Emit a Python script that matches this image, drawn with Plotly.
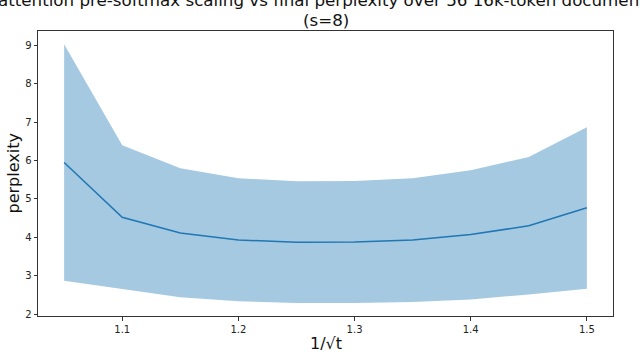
import plotly.graph_objects as go

x_vals = [1.05, 1.1, 1.15, 1.2, 1.25, 1.3, 1.35, 1.4, 1.45, 1.5]
mean_ppl = [5.95, 4.52, 4.11, 3.93, 3.87, 3.88, 3.93, 4.07, 4.30, 4.77]
upper_ppl = [9.03, 6.40, 5.80, 5.54, 5.46, 5.47, 5.54, 5.75, 6.09, 6.87]
lower_ppl = [2.87, 2.66, 2.44, 2.33, 2.29, 2.29, 2.31, 2.38, 2.51, 2.66]

title_line1 = "attention pre-softmax scaling vs final perplexity over 56 16k-token documents"
title_line2 = "(s=8)"
x_title = "1/√t"
y_title = "perplexity"

FONT = "DejaVu Sans"

fig = go.Figure()
fig.add_trace(go.Scatter(x=x_vals, y=lower_ppl, mode="lines", line=dict(width=0),
                         hoverinfo="skip", showlegend=False))
fig.add_trace(go.Scatter(x=x_vals, y=upper_ppl, mode="lines", line=dict(width=0),
                         fill="tonexty", fillcolor="rgba(31,119,180,0.4)",
                         hoverinfo="skip", showlegend=False))
fig.add_trace(go.Scatter(x=x_vals, y=mean_ppl, mode="lines",
                         line=dict(color="#1f77b4", width=1.5), showlegend=False))

axis_common = dict(showline=True, mirror=True, linecolor="#333333", linewidth=1,
                   ticks="outside", ticklen=3.5, tickwidth=0.8, tickcolor="#333333",
                   showgrid=False, zeroline=False,
                   tickfont=dict(family=FONT, size=10, color="#222222"))

fig.update_layout(
    width=640, height=352,
    margin=dict(l=38, r=27, t=31, b=36),
    paper_bgcolor="white", plot_bgcolor="white",
    font=dict(family=FONT, color="#111111"),
    xaxis=dict(range=[1.0275, 1.5225], tickvals=[1.1, 1.2, 1.3, 1.4, 1.5],
               ticktext=["1.1", "1.2", "1.3", "1.4", "1.5"], **axis_common),
    yaxis=dict(range=[1.948, 9.377], tickvals=[2, 3, 4, 5, 6, 7, 8, 9], **axis_common),
    annotations=[
        dict(text=title_line1, xref="paper", yref="paper",
             x=0.5, y=1, xanchor="center", yanchor="middle", yshift=31,
             showarrow=False, font=dict(family=FONT, size=16.7, color="#111111")),
        dict(text=title_line2, xref="paper", yref="paper",
             x=0.5, y=1, xanchor="center", yanchor="middle", yshift=11.5,
             showarrow=False, font=dict(family=FONT, size=16.7, color="#111111")),
        dict(text=x_title, xref="paper", yref="paper", x=0.5, y=0, xanchor="center",
             yanchor="middle", yshift=-27, showarrow=False,
             font=dict(family=FONT, size=16, color="#111111")),
        dict(text=y_title, xref="paper", yref="paper", x=0, y=0.5, xanchor="center",
             yanchor="middle", xshift=-25, textangle=-90, showarrow=False,
             font=dict(family=FONT, size=16, color="#111111")),
    ],
)

fig.write_html("out.html", config={"displayModeBar": False},
               post_script="document.body.style.margin='0px';")
